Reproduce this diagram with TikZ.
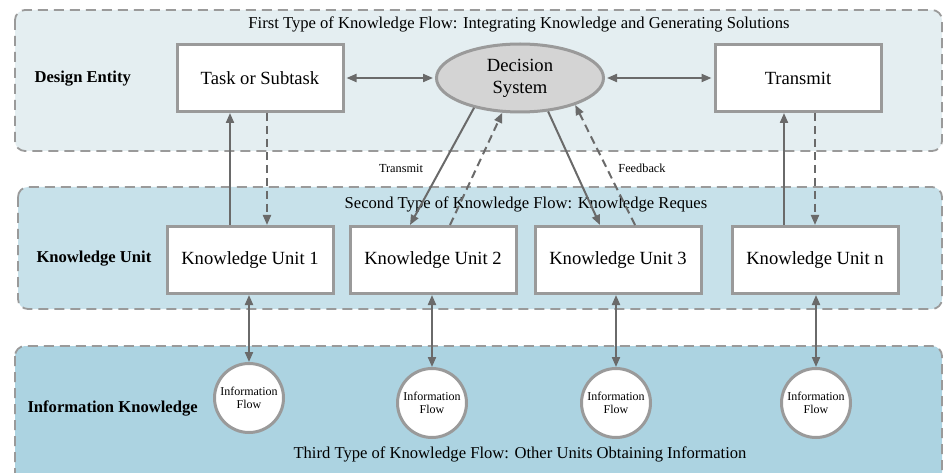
\documentclass[tikz,border=0pt]{standalone}
\usepackage{fontspec}
\setmainfont{Liberation Serif}
\usetikzlibrary{arrows.meta,shapes.geometric,calc}

\definecolor{laneA}{HTML}{E4EEF1}
\definecolor{laneB}{HTML}{C7E1EA}
\definecolor{laneC}{HTML}{ACD3E1}
\definecolor{edgegray}{HTML}{9A9A9A}
\definecolor{arrgray}{HTML}{6A6A6A}
\definecolor{ovalgray}{HTML}{D4D4D4}

\newcommand{\fsz}[1]{\fontsize{#1}{#1}\selectfont}

\tikzset{
  lane/.style={draw=edgegray, line width=1.8pt, dash pattern=on 10pt off 6pt, rounded corners=10pt},
  unitbox/.style={draw=edgegray, line width=3pt, fill=white, minimum width=166pt, minimum height=67pt,
    inner sep=0pt, font=\fsz{18.6}},
  decoval/.style={ellipse, draw=edgegray, line width=3pt, fill=ovalgray, minimum width=167pt,
    minimum height=68pt, inner sep=0pt, align=center, font=\fontsize{18.6}{22}\selectfont},
  infocirc/.style={circle, draw=edgegray, line width=3pt, fill=white, minimum size=69pt, inner sep=0pt,
    align=center, font=\fontsize{12}{13}\selectfont},
  rowlabel/.style={anchor=west, font=\bfseries\fsz{16.6}},
  lanetitle/.style={font=\fsz{16.6}},
  smalllabel/.style={font=\fsz{12.3}},
  arr/.style={draw=arrgray, line width=2pt, arrows={-Triangle[length=10pt,width=8pt]}},
  darr/.style={draw=arrgray, line width=2pt, arrows={Triangle[length=10pt,width=8pt]-Triangle[length=10pt,width=8pt]}},
  dasharr/.style={arr, dash pattern=on 8pt off 5pt},
}

\begin{document}
\begin{tikzpicture}[x=1pt,y=-1pt]
  \useasboundingbox (0,0) rectangle (945,473);
  \clip (0,0) rectangle (945,473);

  % three horizontal lanes
  \draw[lane, fill=laneA] (15,10) rectangle (942,151);
  \draw[lane, fill=laneB] (18,187) rectangle (942,309);
  \draw[lane, fill=laneC] (15,346) rectangle (942,490);

  % lane titles and row labels
  \node[lanetitle] (t1) at (519,24) {First Type of Knowledge Flow: Integrating Knowledge and Generating Solutions};
  \node[lanetitle] (t2) at (526,204) {Second Type of Knowledge Flow: Knowledge Reques};
  \node[lanetitle] (t3) at (520,454) {Third Type of Knowledge Flow: Other Units Obtaining Information};

  \node[rowlabel] (r1) at (31,79) {Design Entity};
  \node[rowlabel] (r2) at (33,259) {Knowledge Unit};
  \node[rowlabel] (r3) at (24,408) {Information Knowledge};

  % design entity row
  \node[unitbox] (task) at (260,78) {Task or Subtask};
  \node[decoval] (dec) at (520,78) {Decision\\System};
  \node[unitbox] (trans) at (798,78) {Transmit};

  % knowledge units
  \node[unitbox] (ku1) at (250,260) {Knowledge Unit 1};
  \node[unitbox] (ku2) at (433,260) {Knowledge Unit 2};
  \node[unitbox] (ku3) at (618,260) {Knowledge Unit 3};
  \node[unitbox] (kun) at (815,260) {Knowledge Unit n};

  % information flows
  \node[infocirc] (if1) at (249,398) {Information\\Flow};
  \node[infocirc] (if2) at (432,403) {Information\\Flow};
  \node[infocirc] (if3) at (616,403) {Information\\Flow};
  \node[infocirc] (if4) at (816,403) {Information\\Flow};

  % connectors in the top row
  \draw[darr, shorten <=2pt, shorten >=2pt] (task) -- (dec);
  \draw[darr, shorten <=2pt, shorten >=2pt] (dec) -- (trans);

  % task <-> unit 1
  \draw[arr] ([xshift=-20pt]ku1.north) -- ([xshift=-20pt]ku1.north |- task.south);
  \draw[dasharr] ([xshift=7pt]task.south) -- ([xshift=7pt]task.south |- ku1.north);

  % transmit <-> unit n
  \draw[arr] ([xshift=-31pt]kun.north) -- ([xshift=-31pt]kun.north |- trans.south);
  \draw[dasharr] ([xshift=17pt]trans.south) -- ([xshift=17pt]trans.south |- kun.north);

  % decision system <-> units 2 and 3
  \draw[arr] (dec.213) -- ([xshift=-23pt]ku2.north);
  \draw[dasharr] ([xshift=17pt]ku2.north) -- (dec.243);
  \draw[arr] (dec.310) -- ([xshift=-18pt]ku3.north);
  \draw[dasharr] ([xshift=17pt]ku3.north) -- (dec.334);

  \node[smalllabel] (lt) at (401,168) {Transmit};
  \node[smalllabel] (lf) at (642,168) {Feedback};

  % units <-> information flows
  \draw[darr] (if1.north |- ku1.south) -- (if1.north);
  \draw[darr] (if2.north |- ku2.south) -- (if2.north);
  \draw[darr] (if3.north |- ku3.south) -- (if3.north);
  \draw[darr] (if4.north |- kun.south) -- (if4.north);
\end{tikzpicture}
\end{document}
